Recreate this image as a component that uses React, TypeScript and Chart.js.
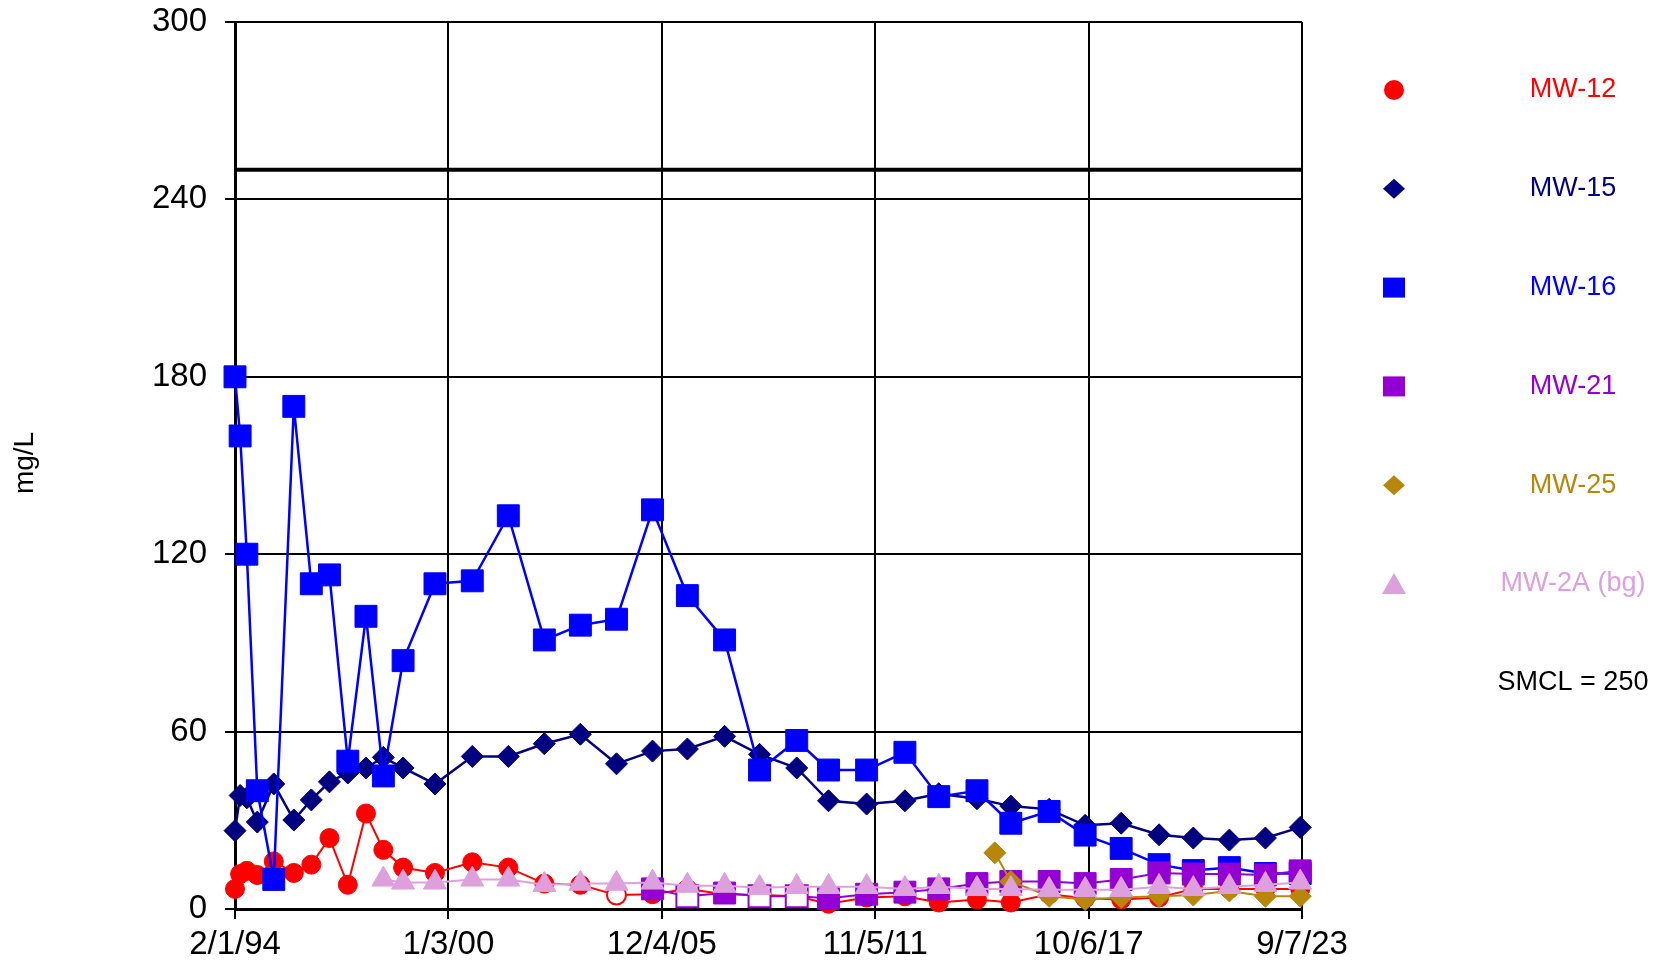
import React, { useEffect, useRef } from 'react';
import { Chart, registerables } from 'chart.js';

Chart.register(...registerables);

// ---- data ----
const sampleDates = [
  '1994-02-01', '1994-03-25', '1994-06-01', '1994-09-15', '1995-03-01',
  '1995-09-20', '1996-03-15', '1996-09-15', '1997-03-20', '1997-09-20',
  '1998-03-15', '1998-10-01', '1999-08-20', '2000-09-01', '2001-09-01',
  '2002-09-01', '2003-09-01', '2004-09-01', '2005-09-01', '2006-08-20',
  '2007-09-01', '2008-08-20', '2009-09-01', '2010-07-20', '2011-08-10',
  '2012-09-01', '2013-08-10', '2014-09-01', '2015-03-01', '2015-08-10',
  '2016-09-01', '2017-09-01', '2018-09-01', '2019-09-20', '2020-09-01',
  '2021-09-01', '2022-09-01', '2023-08-20',
];

const mw12 = [
  6.8, 11.8, 12.9, 11.5, 16.1, 12.2, 15, 24, 8.2, 32.3,
  20, 14, 12.2, 15.8, 14, 8.6, 8.2, 4.7, 5, 6.8,
  5, 4.7, 4.3, 1.8, 3.9, 4.3, 2.2, 3.2, null, 2.2,
  5, 3.6, 3.2, 3.9, 6.8, 6.8, 6.8, 6.8,
];
const mw15 = [
  26.5, 38.4, 37.6, 29.4, 42.3, 30.1, 36.9, 43, 46, 47.7,
  51.3, 47.7, 42.3, 51.6, 51.6, 55.9, 59.1, 49.1, 53.4, 54.1,
  58.4, 52.3, 47.7, 36.6, 35.5, 36.6, 39, 37.3, null, 34.8,
  33.7, 28.3, 29, 25.1, 24, 23.3, 24, 27.6,
];
const mw16 = [
  180, 160, 120, 40, 10, 170, 110, 113, 50, 99,
  45, 84, 110, 111, 133, 91, 96, 98, 135, 106,
  91, 47, 57, 47, 47, 53, 38, 40, null, 29,
  33, 25, 20.5, 15, 13, 14, 12, 12,
];
const mw21 = [
  null, null, null, null, null, null, null, null, null, null,
  null, null, null, null, null, null, null, null, 6.8, 4.3,
  5.4, 4.3, 4.3, 3.6, 5, 5.7, 6.8, 8.6, null, 9.3,
  9.3, 8.6, 10, 12.2, 11.8, 11.8, 11.5, 12.9,
];
const mw25 = [
  null, null, null, null, null, null, null, null, null, null,
  null, null, null, null, null, null, null, null, null, null,
  null, null, null, null, null, null, null, null, 19, 9.3,
  4.3, 3.2, 3.9, 4.3, 4.7, 6.1, 4.3, 4.3,
];
const mw2a = [
  null, null, null, null, null, null, null, null, null, null,
  10, 9, 9, 10, 10, 8.2, 8.6, 8.6, 9, 7.9,
  7.9, 7.2, 7.5, 7.5, 7.5, 6.8, 7.5, 6.8, null, 6.8,
  6.5, 6.5, 6.5, 7.5, 6.8, 7.5, 8.2, 9,
];

// indices of hollow (non-detect) markers
const mw12NonDetect = [17];
const mw21NonDetect = [19, 21, 22];

const smcl = 250;
const xStart = '1994-02-01';
const xEnd = '2023-09-07';
const xStepDays = 2162;
const yMin = 0;
const yMax = 300;
const yStep = 60;

// ---- helpers ----
const DAY = 86400000;
const utc = (iso: string) => {
  const [y, m, d] = iso.split('-').map(Number);
  return Date.UTC(y, m - 1, d);
};
const BASE = utc(xStart);
const toDays = (iso: string) => Math.round((utc(iso) - BASE) / DAY);
const fmtDate = (days: number) => {
  const dt = new Date(BASE + Math.round(days) * DAY);
  const yy = String(dt.getUTCFullYear() % 100).padStart(2, '0');
  return `${dt.getUTCMonth() + 1}/${dt.getUTCDate()}/${yy}`;
};

const FONT = '"Liberation Sans", Arial, Helvetica, sans-serif';

type SeriesDef = {
  label: string;
  values: (number | null)[];
  color: string;
  style: string;
  radius: number;
  nd: number[];
  width: number;
};

const series: SeriesDef[] = [
  { label: 'MW-12', values: mw12, color: '#FF0000', style: 'circle', radius: 9.5, nd: mw12NonDetect, width: 2 },
  { label: 'MW-15', values: mw15, color: '#000080', style: 'rectRot', radius: 11, nd: [], width: 2.5 },
  { label: 'MW-16', values: mw16, color: '#0000FF', style: 'rect', radius: 15.5, nd: [], width: 2.5 },
  { label: 'MW-21', values: mw21, color: '#9400D3', style: 'rect', radius: 15.5, nd: mw21NonDetect, width: 2 },
  { label: 'MW-25', values: mw25, color: '#B8860B', style: 'rectRot', radius: 11, nd: [], width: 2 },
  { label: 'MW-2A (bg)', values: mw2a, color: '#DDA0DD', style: 'triangle', radius: 13.3, nd: [], width: 2 },
];

function drawMarker(ctx: CanvasRenderingContext2D, style: string, x: number, y: number, color: string) {
  ctx.fillStyle = color;
  ctx.beginPath();
  if (style === 'circle') {
    ctx.arc(x, y, 10, 0, Math.PI * 2);
  } else if (style === 'rectRot') {
    ctx.moveTo(x, y - 10);
    ctx.lineTo(x + 11, y);
    ctx.lineTo(x, y + 10);
    ctx.lineTo(x - 11, y);
    ctx.closePath();
  } else if (style === 'rect') {
    ctx.rect(x - 11, y - 10, 22, 20);
  } else {
    ctx.moveTo(x, y - 11);
    ctx.lineTo(x + 12, y + 10);
    ctx.lineTo(x - 12, y + 10);
    ctx.closePath();
  }
  ctx.fill();
}

const overlayPlugin = {
  id: 'overlay',
  afterDraw(chart: any) {
    const ctx: CanvasRenderingContext2D = chart.ctx;
    ctx.save();
    // y-axis title
    ctx.save();
    ctx.translate(25, 463);
    ctx.rotate(-Math.PI / 2);
    ctx.font = `28px ${FONT}`;
    ctx.fillStyle = '#000';
    ctx.textAlign = 'center';
    ctx.textBaseline = 'middle';
    ctx.fillText('mg/L', 0, 0);
    ctx.restore();

    // legend
    const markX = 1394;
    const textX = 1573;
    const y0 = 90;
    const dy = 98.8;
    ctx.font = `27px ${FONT}`;
    ctx.textAlign = 'center';
    ctx.textBaseline = 'middle';
    series.forEach((s, i) => {
      const y = y0 + i * dy;
      drawMarker(ctx, s.style, markX, y, s.color);
      ctx.fillStyle = s.color;
      ctx.fillText(s.label, textX, y);
    });
    ctx.fillStyle = '#000';
    ctx.fillText(`SMCL = ${smcl}`, textX, y0 + 6 * dy);
    ctx.restore();
  },
};

export default function App() {
  const canvasRef = useRef<HTMLCanvasElement | null>(null);

  useEffect(() => {
    if (!canvasRef.current) return;
    const xs = sampleDates.map(toDays);
    const xMin = 0;
    const xMax = toDays(xEnd);

    const datasets: any[] = series.map((s, idx) => {
      const nd = new Set(s.nd);
      return {
        label: s.label,
        data: s.values.map((v, i) => ({ x: xs[i], y: v })),
        borderColor: s.color,
        borderWidth: s.width,
        pointStyle: s.style,
        pointRadius: s.radius,
        pointHoverRadius: s.radius,
        pointBackgroundColor: s.values.map((_, i) => (nd.has(i) ? '#FFFFFF' : s.color)),
        pointBorderColor: s.color,
        pointBorderWidth: s.values.map((_, i) => (nd.has(i) ? 2 : 1)),
        spanGaps: true,
        fill: false,
        tension: 0,
        clip: false,
        order: series.length - 1 - idx,
      };
    });
    datasets.push({
      label: 'SMCL',
      data: [
        { x: xMin, y: smcl },
        { x: xMax, y: smcl },
      ],
      borderColor: '#000',
      borderWidth: 4,
      pointRadius: 0,
      fill: false,
      order: 20,
    });

    const chart = new Chart(canvasRef.current, {
      type: 'line',
      data: { datasets },
      plugins: [overlayPlugin],
      options: {
        animation: false,
        responsive: false,
        events: [],
        layout: { padding: { top: 22, right: 361, left: 0, bottom: 0 } },
        plugins: {
          legend: { display: false },
          tooltip: { enabled: false },
          title: { display: false },
        },
        scales: {
          x: {
            type: 'linear',
            min: xMin,
            max: xMax,
            ticks: {
              stepSize: xStepDays,
              color: '#000',
              font: { family: FONT, size: 33 },
              padding: 6,
              maxRotation: 0,
              autoSkip: false,
              callback: (v: any) => fmtDate(Number(v)),
            },
            grid: { color: '#000', lineWidth: 2, tickLength: 10, tickColor: '#000' },
            border: { color: '#000', width: 3 },
            afterFit: (scale: any) => {
              scale.height = 62;
              scale.paddingLeft = 0;
              scale.paddingRight = 0;
            },
          },
          y: {
            type: 'linear',
            min: yMin,
            max: yMax,
            ticks: {
              stepSize: yStep,
              color: '#000',
              font: { family: FONT, size: 33 },
              padding: 18,
            },
            grid: { color: '#000', lineWidth: 2, tickLength: 10, tickColor: '#000' },
            border: { color: '#000', width: 3 },
            afterFit: (scale: any) => {
              scale.width = 235;
              scale.paddingTop = 0;
              scale.paddingBottom = 0;
            },
          },
        },
      },
    });
    return () => chart.destroy();
  }, []);

  return (
    <div style={{ position: 'fixed', left: 0, top: 0, width: 1663, height: 971, background: '#fff' }}>
      <canvas ref={canvasRef} width={1663} height={971} style={{ width: 1663, height: 971, display: 'block' }} />
    </div>
  );
}
